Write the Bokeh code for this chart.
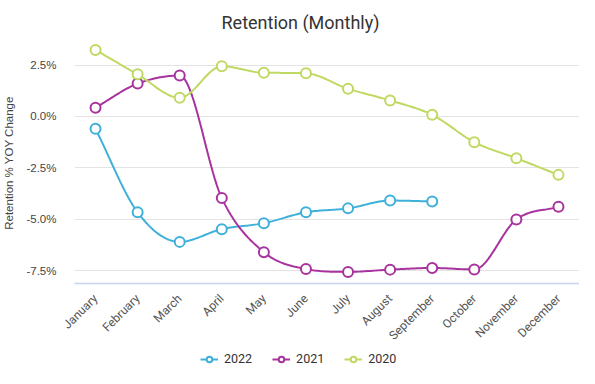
import numpy as np
from bokeh.plotting import figure
from bokeh.layouts import column
from bokeh.models import Range1d, FixedTicker, PrintfTickFormatter, Legend, LegendItem
from bokeh.embed import file_html
from bokeh.resources import INLINE

months = ["January", "February", "March", "April", "May", "June", "July",
          "August", "September", "October", "November", "December"]
vals_2022 = [-0.60, -4.66, -6.10, -5.48, -5.19, -4.66, -4.47, -4.09, -4.13]
vals_2021 = [0.43, 1.60, 1.99, -3.97, -6.60, -7.42, -7.56, -7.45, -7.37, -7.44, -5.01, -4.39]
vals_2020 = [3.24, 2.05, 0.91, 2.44, 2.13, 2.10, 1.35, 0.78, 0.08, -1.25, -2.03, -2.84]
y_ticks = [-7.5, -5.0, -2.5, 0.0, 2.5]

series = [("2022", vals_2022, "#3fb0da"),
          ("2021", vals_2021, "#a8339f"),
          ("2020", vals_2020, "#bfd962")]


def monotone_path(ys, steps=24):
    """Monotone cubic (Fritsch-Carlson) rendering path through the data points."""
    xs = np.arange(len(ys), dtype=float)
    ys = np.asarray(ys, dtype=float)
    n = len(ys)
    d = np.diff(ys) / np.diff(xs)
    m = np.zeros(n)
    m[0], m[-1] = d[0], d[-1]
    for i in range(1, n - 1):
        m[i] = 0.0 if d[i - 1] * d[i] <= 0 else (d[i - 1] + d[i]) / 2
    for i in range(n - 1):
        if d[i] == 0:
            m[i] = m[i + 1] = 0.0
            continue
        a, b = m[i] / d[i], m[i + 1] / d[i]
        s = a * a + b * b
        if s > 9:
            t = 3 / np.sqrt(s)
            m[i], m[i + 1] = t * a * d[i], t * b * d[i]
    px, py = [], []
    for i in range(n - 1):
        h = xs[i + 1] - xs[i]
        for t in np.linspace(0, 1, steps, endpoint=(i == n - 2)):
            h00 = 2 * t**3 - 3 * t**2 + 1
            h10 = t**3 - 2 * t**2 + t
            h01 = -2 * t**3 + 3 * t**2
            h11 = t**3 - t**2
            px.append(xs[i] + t * h)
            py.append(h00 * ys[i] + h10 * h * m[i] + h01 * ys[i + 1] + h11 * h * m[i + 1])
    return px, py


p = figure(width=579, height=350, output_backend="svg", toolbar_location=None,
           x_range=Range1d(-0.5, 11.5), y_range=Range1d(-8.125, 3.6),
           min_border_left=62, min_border_right=0, min_border_top=40, min_border_bottom=66)
p.outline_line_color = None
p.background_fill_color = "white"

p.title.text = "Retention (Monthly)"
p.title.align = "left"
p.title.offset = 147
p.title.text_font = "Roboto"
p.title.text_font_size = "18px"
p.title.text_font_style = "normal"
p.title.text_color = "#333333"
p.title.standoff = 19

# axes
xa = p.xaxis[0]
xa.ticker = FixedTicker(ticks=list(range(len(months))))
xa.major_label_overrides = {i: m for i, m in enumerate(months)}
xa.major_label_orientation = np.pi / 4
xa.major_tick_line_color = None
xa.minor_tick_line_color = None
xa.axis_line_color = "#c5d6ec"
xa.axis_line_width = 1.5
xa.major_label_text_font = "Roboto"
xa.major_label_text_font_size = "12px"
xa.major_label_text_color = "#555555"
xa.major_label_standoff = 7

ya = p.yaxis[0]
ya.ticker = FixedTicker(ticks=y_ticks)
ya.formatter = PrintfTickFormatter(format="%.1f%%")
ya.major_tick_line_color = None
ya.minor_tick_line_color = None
ya.axis_line_color = None
ya.major_label_text_font = "Liberation Sans"
ya.major_label_text_font_size = "11.5px"
ya.major_label_text_color = "#444444"
ya.major_label_standoff = 12
ya.axis_label = "Retention % YOY Change"
ya.axis_label_text_font = "Liberation Sans"
ya.axis_label_text_font_size = "11.5px"
ya.axis_label_text_font_style = "normal"
ya.axis_label_text_color = "#444444"
ya.axis_label_standoff = 8

p.xgrid.grid_line_color = None
p.ygrid.grid_line_color = "#e3e3e3"
p.ygrid.grid_line_width = 1

for name, vals, color in series:
    px, py = monotone_path(vals)
    p.line(px, py, line_color=color, line_width=2)
    p.scatter(list(range(len(vals))), vals, size=10, marker="circle",
              fill_color="white", line_color=color, line_width=2)

# legend strip below the chart (same line + marker styling as the series);
# the proxy renderers hold one point outside the strip's visible range
lg = figure(width=579, height=18, output_backend="svg", toolbar_location=None,
            x_range=Range1d(0, 1), y_range=Range1d(0, 1),
            x_axis_location=None, y_axis_location=None,
            min_border_left=0, min_border_right=0, min_border_top=0, min_border_bottom=0)
lg.outline_line_color = None
lg.xgrid.grid_line_color = None
lg.ygrid.grid_line_color = None
items = []
for name, vals, color in series:
    l1 = lg.line([-5, -4], [-5, -4], line_color=color, line_width=2)
    l2 = lg.scatter([-5], [-5], size=10, marker="circle",
                    fill_color="white", line_color=color, line_width=2)
    items.append(LegendItem(label=name, renderers=[l1, l2]))

legend = Legend(items=items, orientation="horizontal", location=(126, 2),
                border_line_color=None, background_fill_alpha=0,
                label_text_font="Roboto", label_text_font_size="12.5px",
                label_text_color="#333333", glyph_width=18, glyph_height=14,
                label_standoff=6, spacing=20, padding=0, margin=0)
lg.add_layout(legend, "center")

layout = column(p, lg, spacing=0)
open("out.html", "w").write(file_html(layout, INLINE))
